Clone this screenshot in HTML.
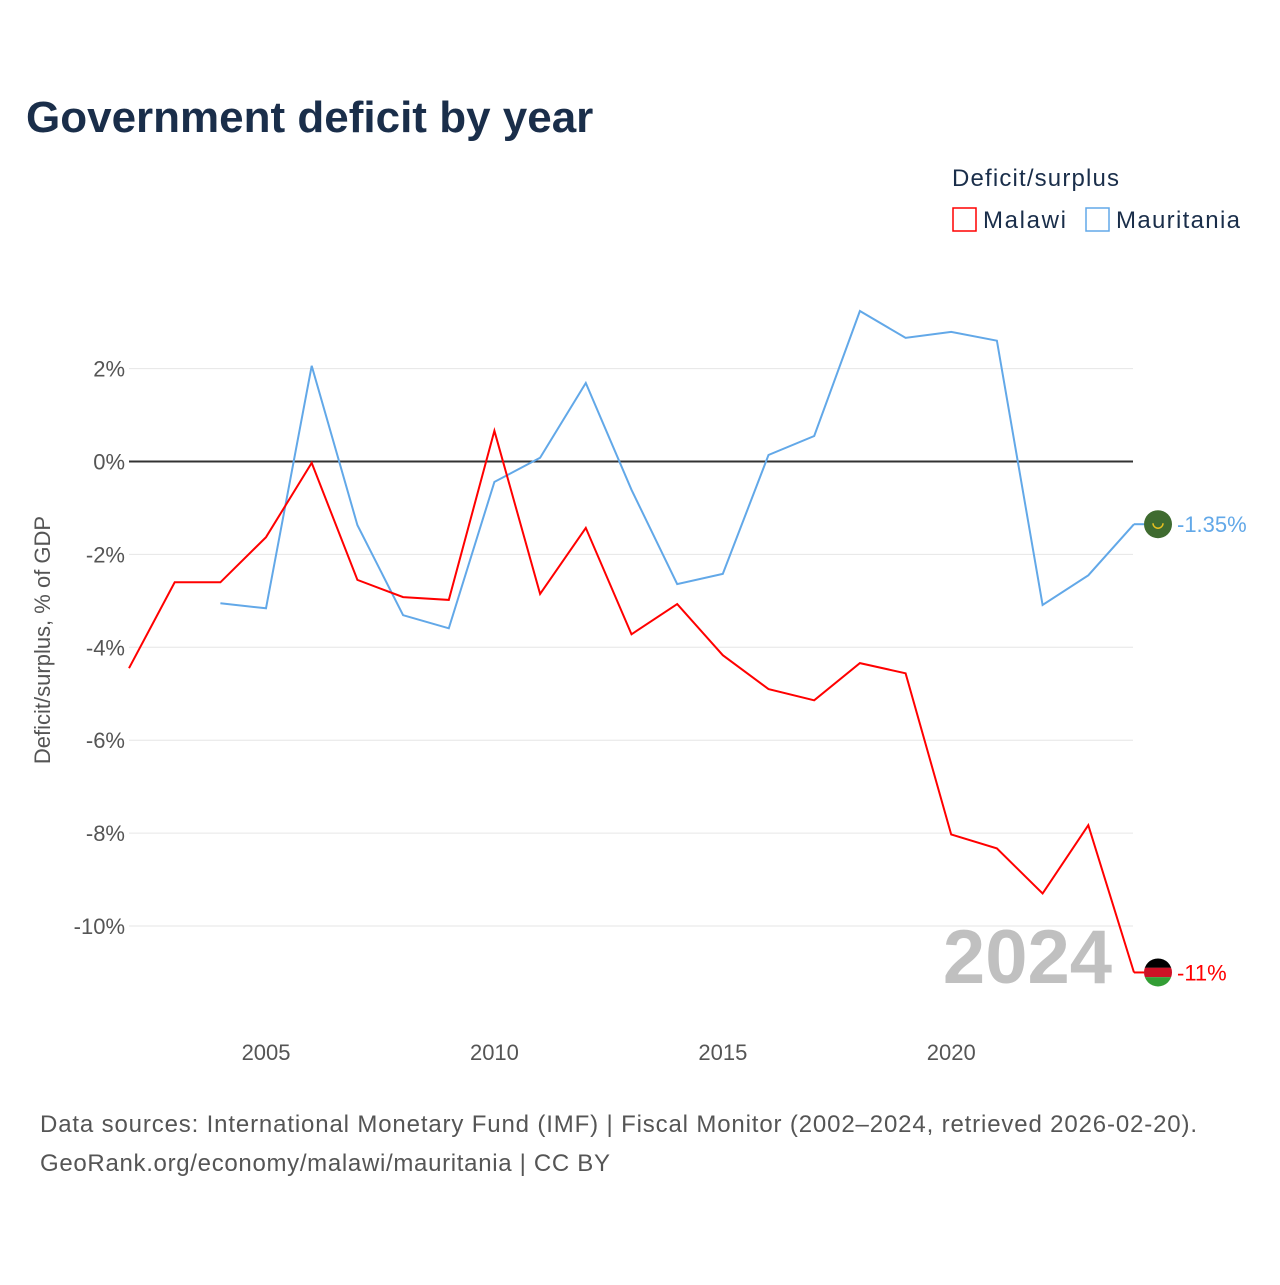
<!DOCTYPE html>
<html><head><meta charset="utf-8"><style>
body{margin:0;background:#fff;font-family:"Liberation Sans",sans-serif}
svg text{font-family:"Liberation Sans",sans-serif}
</style></head><body>
<svg width="1280" height="1280" viewBox="0 0 1280 1280">
<defs><clipPath id="mwclip"><circle cx="1158" cy="972" r="14"/></clipPath></defs>
<text x="26" y="132" font-size="44" font-weight="bold" fill="#1a2e4a">Government deficit by year</text>
<text x="952" y="186" font-size="24" fill="#1a2e4a" textLength="167">Deficit/surplus</text>
<g><rect x="953" y="208" width="23" height="23" fill="none" stroke="#ff0000" stroke-width="1.5"/><text x="983" y="228" font-size="24" fill="#1a2e4a" textLength="83">Malawi</text></g>
<g><rect x="1086" y="208" width="23" height="23" fill="none" stroke="#62a8e8" stroke-width="1.5"/><text x="1116" y="228" font-size="24" fill="#1a2e4a" textLength="124">Mauritania</text></g>
<g id="grid"></g>
<g id="yt"></g>
<g id="xt"></g>
<text transform="translate(50,640) rotate(-90)" font-size="22" fill="#555" text-anchor="middle">Deficit/surplus, % of GDP</text>
<text x="1112" y="983" font-size="76" font-weight="bold" fill="#c0c0c0" text-anchor="end">2024</text>
<g id="series"></g>
<text x="40" y="1132" font-size="24" fill="#555" textLength="1157">Data sources: International Monetary Fund (IMF) | Fiscal Monitor (2002–2024, retrieved 2026-02-20).</text>
<text x="40" y="1171" font-size="24" fill="#555" textLength="570">GeoRank.org/economy/malawi/mauritania | CC BY</text>
</svg>
<script>
const years=[2002,2003,2004,2005,2006,2007,2008,2009,2010,2011,2012,2013,2014,2015,2016,2017,2018,2019,2020,2021,2022,2023,2024];
const malawi=[-4.45,-2.6,-2.6,-1.63,-0.03,-2.55,-2.92,-2.98,0.66,-2.85,-1.43,-3.72,-3.07,-4.17,-4.9,-5.14,-4.34,-4.56,-8.03,-8.33,-9.3,-7.83,-11.0];
const mauritania=[null,null,-3.05,-3.16,2.06,-1.37,-3.31,-3.59,-0.44,0.08,1.69,-0.61,-2.64,-2.42,0.14,0.55,3.24,2.66,2.79,2.6,-3.09,-2.45,-1.35];
const yTicks=[2,0,-2,-4,-6,-8,-10];
const xTicks=[2005,2010,2015,2020];
const NS='http://www.w3.org/2000/svg';
const X=y=>129+(y-2002)*45.68;
const Y=v=>461.5-v*46.45;
function mk(t,a,p){const e=document.createElementNS(NS,t);for(const k in a)e.setAttribute(k,a[k]);p.appendChild(e);return e;}
const grid=document.getElementById('grid'),yt=document.getElementById('yt'),xt=document.getElementById('xt'),ser=document.getElementById('series');
yTicks.forEach(v=>{
 const l=mk('line',{x1:129,x2:1133,y1:Y(v),y2:Y(v),stroke:v===0?'#333':'#e6e6e6','stroke-width':v===0?2:1},grid);
 
 
 const t=mk('text',{x:125,y:Y(v)+8,'font-size':22,fill:'#555','text-anchor':'end'},yt);
 t.textContent=v+'%';
 
 
});
xTicks.forEach(v=>{
 const t=mk('text',{x:X(v),y:1060,'font-size':22,fill:'#555','text-anchor':'middle'},xt);
 t.textContent=v;
 
 
});
function line(vals,col,name,label,fill,striped){
 let d='';vals.forEach((v,i)=>{if(v===null)return;d+=(d?'L':'M')+X(years[i]).toFixed(1)+','+Y(v).toFixed(1);});
 const p=mk('path',{d:d,fill:'none',stroke:col,'stroke-width':2},ser);
 
 
 const last=vals[vals.length-1];
 const ly=Y(last);
 mk('line',{x1:X(2024),x2:1144,y1:ly,y2:ly,stroke:col,'stroke-width':2},ser);
 const g=mk('g',{},ser);
 
 
 if(striped){
  document.querySelector('#mwclip circle').setAttribute('cy',ly);
  const sg=mk('g',{'clip-path':'url(#mwclip)'},g);
  mk('rect',{x:1144,y:ly-14,width:28,height:9.4,fill:'#000'},sg);
  mk('rect',{x:1144,y:ly-4.7,width:28,height:9.4,fill:'#ce1126'},sg);
  mk('rect',{x:1144,y:ly+4.7,width:28,height:9.4,fill:'#339e35'},sg);
 } else {
  mk('circle',{cx:1158,cy:ly,r:14,fill:fill},g);
  mk('path',{d:`M1153,${ly-1} A5,5 0 0 0 1163,${ly-1}`,fill:'none',stroke:'#e8c020','stroke-width':1.5},g);
 }
 const t=mk('text',{x:1177,y:ly+8,'font-size':22,fill:col},ser);
 t.textContent=label;
 
 
}
line(mauritania,'#62a8e8','mauritania','-1.35%','#3f6b30',false);
line(malawi,'#ff0000','malawi','-11%','#d21034',true);
</script>
</body></html>
